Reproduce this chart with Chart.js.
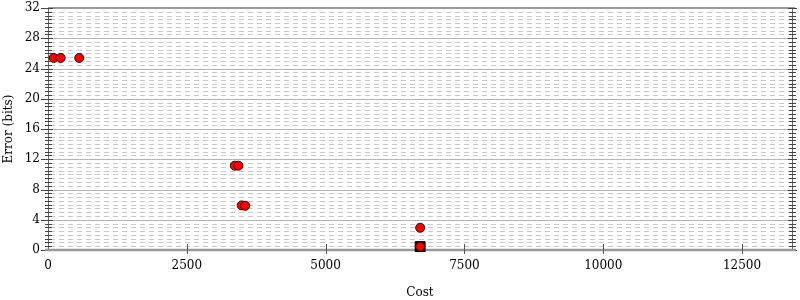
<!DOCTYPE html>
<html>
<head>
<meta charset="utf-8">
<script src="https://cdn.jsdelivr.net/npm/chart.js@4/dist/chart.umd.min.js"></script>
<style>
html,body{margin:0;padding:0;background:#fff;}
#wrap{width:800px;height:300px;position:relative;}
</style>
</head>
<body>
<div id="wrap"><canvas id="c"></canvas></div>
<script>
// ---- data ----
const costValues  = [103, 228, 563, 3365, 3430, 3489, 3552, 6703, 6703];
const errorValues = [25.4, 25.4, 25.4, 11.15, 11.15, 5.9, 5.85, 2.94, 0.45];
const bestCost  = [6703];
const bestError = [0.45];
const xTickValues = [0, 2500, 5000, 7500, 10000, 12500];
const yTickValues = [0, 4, 8, 12, 16, 20, 24, 28, 32];
const yMinorStep = 0.5;
const xMax = 13400;
const yMax = 32;

const pts = costValues.map((c, i) => ({x: c, y: errorValues[i]}));
const best = bestCost.map((c, i) => ({x: c, y: bestError[i]}));

const FONT = "'DejaVu Serif', serif";

const gridPlugin = {
  id: 'customGrid',
  beforeDatasetsDraw(chart) {
    const {ctx, chartArea: a, scales: {x, y}} = chart;
    const L = Math.round(a.left), R = Math.round(a.right);
    ctx.save();
    // minor dashed grid lines
    ctx.lineWidth = 1;
    ctx.strokeStyle = '#c8c8c8';
    ctx.setLineDash([5, 4]);
    for (let v = yMinorStep; v < yMax; v += yMinorStep) {
      if (yTickValues.includes(v)) continue;
      const p = Math.round(y.getPixelForValue(v)) + 0.5;
      ctx.beginPath(); ctx.moveTo(L + 2, p); ctx.lineTo(R - 3, p); ctx.stroke();
    }
    ctx.setLineDash([]);
    // major solid grid lines
    ctx.strokeStyle = '#b4b4b4';
    yTickValues.forEach(v => {
      if (v === 0 || v === yMax) return;
      const p = Math.round(y.getPixelForValue(v)) + 0.5;
      ctx.beginPath(); ctx.moveTo(L, p); ctx.lineTo(R, p); ctx.stroke();
    });
    // top line
    ctx.strokeStyle = '#9a9a9a';
    ctx.lineWidth = 2;
    const pt = Math.round(y.getPixelForValue(yMax));
    ctx.beginPath(); ctx.moveTo(L, pt); ctx.lineTo(R + 3, pt); ctx.stroke();
    // left/right axis lines
    ctx.lineWidth = 1;
    ctx.strokeStyle = '#666';
    const top = y.getPixelForValue(yMax), bot = y.getPixelForValue(0);
    [L + 0.5, R + 0.5].forEach(xx => {
      ctx.beginPath(); ctx.moveTo(xx, top); ctx.lineTo(xx, bot); ctx.stroke();
    });
    // y tick marks, both sides
    ctx.strokeStyle = '#444';
    for (let v = 0; v <= yMax + 1e-9; v += yMinorStep) {
      const p = Math.round(y.getPixelForValue(v)) + 0.5;
      const major = yTickValues.includes(v);
      ctx.beginPath();
      if (major) { ctx.moveTo(L - 7, p); ctx.lineTo(L + 5, p); }
      else { ctx.moveTo(L - 3, p); ctx.lineTo(L + 4, p); }
      if (major) { ctx.moveTo(R - 4, p); ctx.lineTo(R + 5, p); }
      else { ctx.moveTo(R - 3, p); ctx.lineTo(R + 4, p); }
      ctx.stroke();
    }
    // bottom axis
    ctx.strokeStyle = '#999';
    ctx.lineWidth = 2.5;
    const pb = y.getPixelForValue(0);
    ctx.beginPath(); ctx.moveTo(L - 3, pb); ctx.lineTo(R + 4, pb); ctx.stroke();
    // x tick marks
    ctx.lineWidth = 1;
    ctx.strokeStyle = '#555';
    xTickValues.forEach(v => {
      if (v === 0) return;
      const p = Math.round(x.getPixelForValue(v)) + 0.5;
      ctx.beginPath(); ctx.moveTo(p, pb - 6); ctx.lineTo(p, pb + 4); ctx.stroke();
    });
    ctx.restore();
  }
};

const zeroPad = s => { s.paddingTop = 0; s.paddingBottom = 0; s.paddingLeft = 0; s.paddingRight = 0; };

new Chart(document.getElementById('c'), {
  type: 'scatter',
  data: {
    datasets: [
      {
        label: 'points', data: pts,
        backgroundColor: '#ff0000', borderColor: '#330000', borderWidth: 1,
        pointRadius: 4.5, pointHoverRadius: 4.5, order: 1, clip: false
      },
      {
        label: 'best', data: best, pointStyle: 'rect',
        backgroundColor: '#000', borderColor: '#000', borderWidth: 1,
        pointRadius: 7, pointHoverRadius: 7, order: 2, clip: false
      }
    ]
  },
  options: {
    responsive: true,
    maintainAspectRatio: false,
    animation: false,
    events: [],
    layout: {padding: {left: 2, right: 7, top: 7.5, bottom: 0}},
    plugins: {legend: {display: false}, tooltip: {enabled: false}},
    scales: {
      x: {
        type: 'linear', min: 0, max: xMax,
        afterBuildTicks: s => { s.ticks = xTickValues.map(v => ({value: v})); },
        afterFit: s => { s.height = 50; zeroPad(s); },
        grid: {display: false, drawTicks: false},
        border: {display: false},
        ticks: {color: '#000', font: {family: FONT, size: 12}, padding: 9, maxRotation: 0, callback: v => String(v)},
        title: {display: true, text: 'Cost', color: '#000', font: {family: FONT, size: 12}, padding: {top: 0, bottom: 0}}
      },
      y: {
        type: 'linear', min: 0, max: yMax,
        afterBuildTicks: s => { s.ticks = yTickValues.map(v => ({value: v})); },
        afterFit: s => { s.width = 46; zeroPad(s); },
        grid: {display: false, drawTicks: false},
        border: {display: false},
        ticks: {color: '#000', font: {family: FONT, size: 12}, padding: 8, callback: v => String(v)},
        title: {display: true, text: 'Error (bits)', color: '#000', font: {family: FONT, size: 12}, padding: {top: 0, bottom: 0}}
      }
    }
  },
  plugins: [gridPlugin]
});
</script>
</body>
</html>
